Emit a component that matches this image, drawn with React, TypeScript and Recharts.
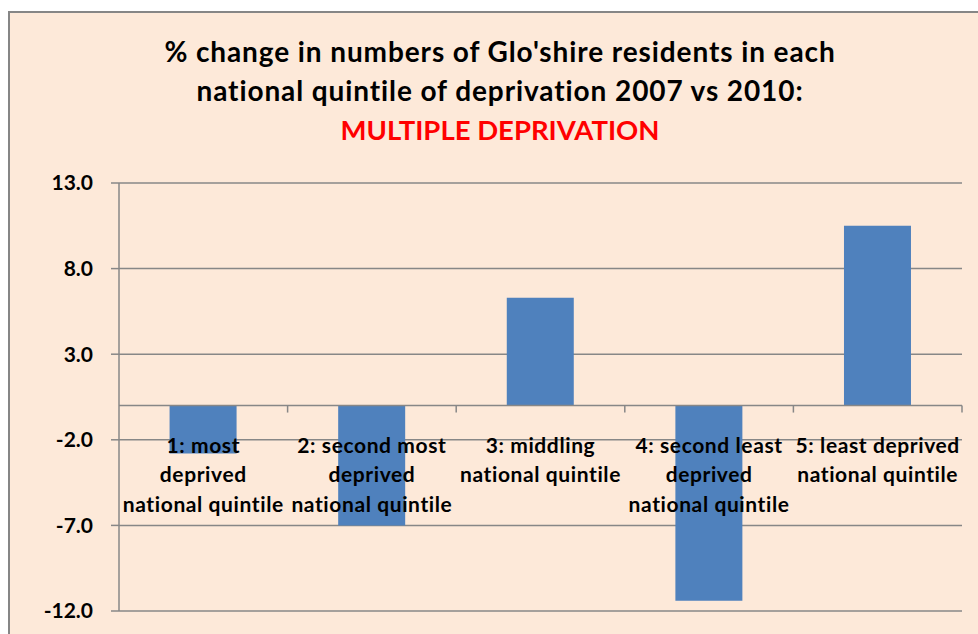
import React from "react";
import { BarChart, Bar, XAxis, YAxis, CartesianGrid, ReferenceLine } from "recharts";

const titleLines = [
  "% change in numbers of Glo'shire residents in each",
  "national quintile of deprivation 2007 vs 2010:",
];
const subtitle = "MULTIPLE DEPRIVATION";

const categoryLines: string[][] = [
  ["1: most", "deprived", "national quintile"],
  ["2: second most", "deprived", "national quintile"],
  ["3: middling", "national quintile"],
  ["4: second least", "deprived", "national quintile"],
  ["5: least deprived", "national quintile"],
];
const categories = categoryLines.map((l) => l.join(" "));
const values = [-2.8, -7.0, 6.3, -11.4, 10.5];
const yTicks = [13, 8, 3, -2, -7, -12];

const data = categories.map((c, i) => ({ category: c, value: values[i] }));

const FONT = "Lato, 'Open Sans', sans-serif";
const GRID = "#878787";

const ZeroAxisLabels = (props: any) => {
  const vb = props.viewBox || {};
  const x0 = vb.x ?? 0;
  const y0 = vb.y ?? 0;
  const w = vb.width ?? 0;
  const n = categoryLines.length;
  const step = w / n;
  return (
    <g>
      {categoryLines.map((_, i) => (
        <line
          key={"t" + i}
          x1={x0 + (i + 1) * step}
          x2={x0 + (i + 1) * step}
          y1={y0}
          y2={y0 + 7}
          stroke={GRID}
          strokeWidth={1.5}
        />
      ))}
      {categoryLines.map((lines, i) => (
        <text
          key={"l" + i}
          x={x0 + (i + 0.5) * step}
          y={y0}
          textAnchor="middle"
          fontFamily={FONT}
          fontWeight={700}
          fontSize={21}
          letterSpacing={0.6}
          fill="#000"
        >
          {lines.map((ln, j) => (
            <tspan key={j} x={x0 + (i + 0.5) * step} y={y0 + 47 + j * 29.5}>
              {ln}
            </tspan>
          ))}
        </text>
      ))}
    </g>
  );
};

export default function App() {
  return (
    <div
      style={{
        position: "absolute",
        left: 0,
        top: 0,
        width: 978,
        height: 634,
        overflow: "hidden",
        background: "#ffffff",
      }}
    >
      <div
        style={{
          position: "absolute",
          left: 8,
          top: 11,
          width: 1100,
          height: 800,
          background: "#FDE9D9",
          borderLeft: "2.5px solid #868686",
          borderTop: "2.5px solid #868686",
        }}
      />
      <div
        style={{
          position: "absolute",
          left: 0,
          top: 32,
          width: 1000,
          textAlign: "center",
          fontFamily: FONT,
          fontWeight: 700,
          fontSize: 28,
          letterSpacing: 0.9,
          lineHeight: "39px",
          color: "#000",
          whiteSpace: "nowrap",
        }}
      >
        {titleLines.map((t, i) => (
          <div key={i}>{t}</div>
        ))}
        <div style={{ color: "#FF0000", fontSize: 27.5, letterSpacing: 0 }}>{subtitle}</div>
      </div>
      <div style={{ position: "absolute", left: 0, top: 0 }}>
        <BarChart
          width={978}
          height={634}
          data={data}
          margin={{ top: 183, right: 16, bottom: 23, left: 19 }}
          barCategoryGap="30%"
        >
          <CartesianGrid vertical={false} stroke={GRID} strokeWidth={1.5} />
          <XAxis dataKey="category" hide />
          <YAxis
            width={100}
            domain={[-12, 13]}
            ticks={yTicks}
            interval={0}
            allowDataOverflow
            tickFormatter={(v: number) => v.toFixed(1)}
            tick={{ fill: "#000", fontSize: 21, fontWeight: 700, fontFamily: FONT }}
            tickSize={8}
            tickMargin={18}
            stroke={GRID}
            strokeWidth={1.5}
            axisLine={{ stroke: GRID, strokeWidth: 1.5 }}
            tickLine={{ stroke: GRID, strokeWidth: 1.5 }}
          />
          <Bar dataKey="value" fill="#4F81BD" isAnimationActive={false} />
          <ReferenceLine
            y={0}
            stroke={GRID}
            strokeWidth={1.5}
            label={<ZeroAxisLabels />}
          />
        </BarChart>
      </div>
    </div>
  );
}
